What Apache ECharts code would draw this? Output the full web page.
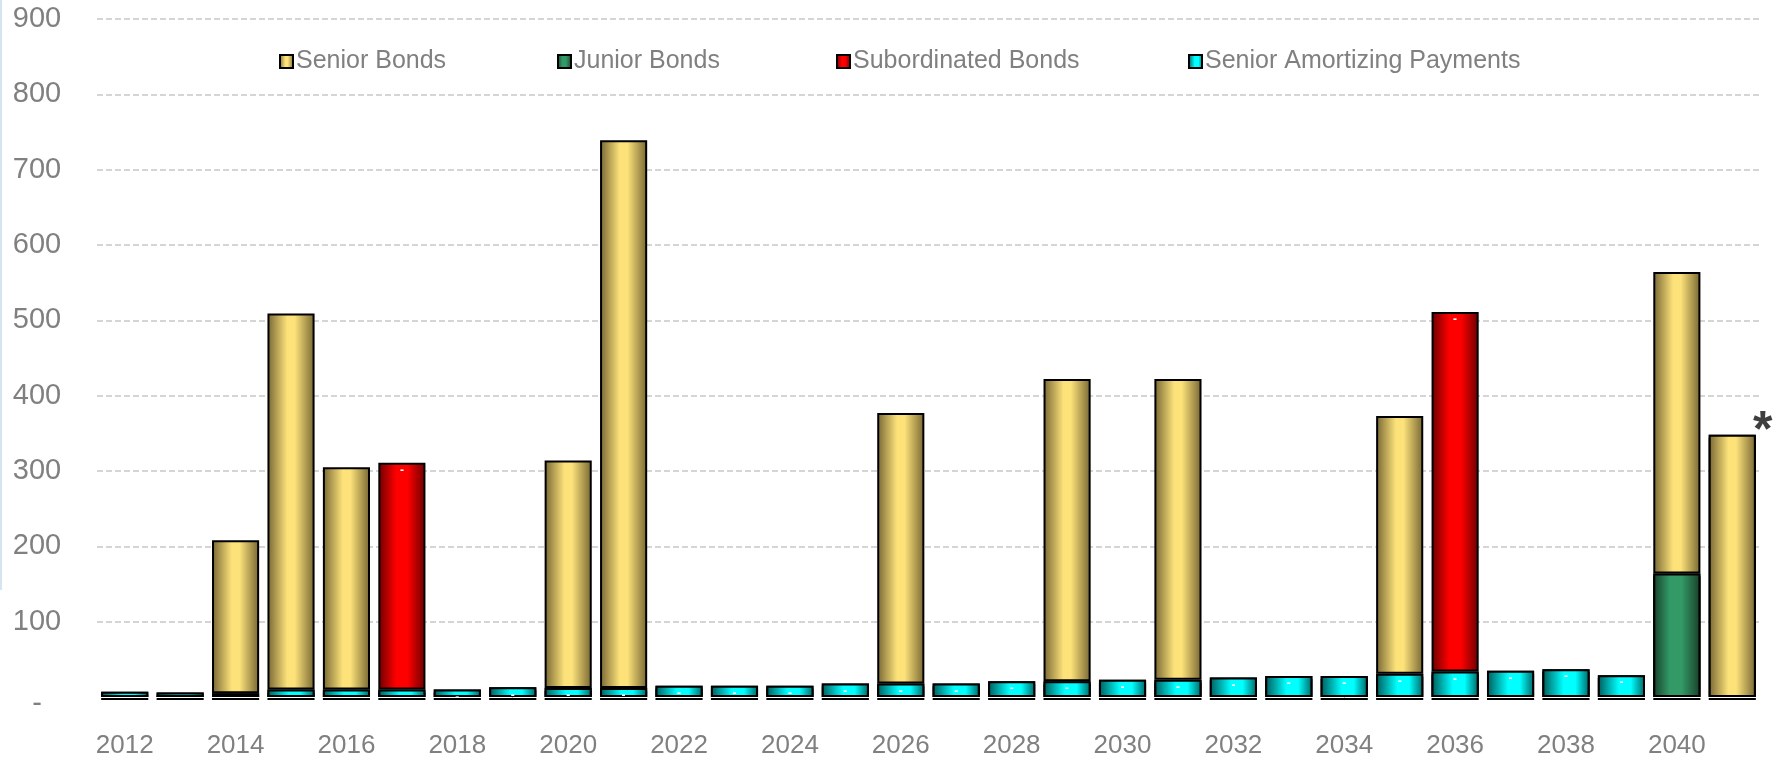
<!DOCTYPE html>
<html>
<head>
<meta charset="utf-8">
<script src="https://cdn.jsdelivr.net/npm/echarts@6/dist/echarts.min.js"></script>
<style>
html,body{margin:0;padding:0;background:#fff;}
#chart{width:1781px;height:757px;}
</style>
</head>
<body>
<div id="chart"></div>
<script>
// ---- data ----
const years = ['2012','2013','2014','2015','2016','2017','2018','2019','2020','2021','2022','2023','2024','2025','2026','2027','2028','2029','2030','2031','2032','2033','2034','2035','2036','2037','2038','2039','2040','2041'];
const seniorAmortizing = [7,6,5,10,10,10,10,13,12,12,15,15,15,18,18,18,21,21,23,23,26,28,28,31,34,35,37,29,null,null];
const juniorBonds = [null,null,null,null,null,null,null,null,null,null,null,null,null,null,null,null,null,null,null,null,null,null,null,null,null,null,null,null,164,null];
const seniorBonds = [null,null,203,499,295,null,null,null,302,727,null,null,null,null,359,null,null,401,null,399,null,null,null,342,null,null,null,null,400,348];
const subordinatedBonds = [null,null,null,null,null,301,null,null,null,null,null,null,null,null,null,null,null,null,null,null,null,null,null,null,477,null,null,null,null,null];
const yTicks = {min:0, max:900, interval:100};
const legendNames = ['Senior Bonds','Junior Bonds','Subordinated Bonds','Senior Amortizing Payments'];
const footnoteYear = '2041';

// ---- styles ----
function grad(edgeL, mid, edgeR, a, b){
  return new echarts.graphic.LinearGradient(0,0,1,0,[
    {offset:0,color:edgeL},{offset:a,color:mid},{offset:b,color:mid},{offset:1,color:edgeR}]);
}
const cSenior = grad('#766633','#fde27a','#766633',0.42,0.58);
const cJunior = grad('#173f2a','#339966','#173f2a',0.35,0.6);
const cSub = grad('#6a0000','#ff0000','#6a0000',0.38,0.62);
const cSap = grad('#005a5a','#00ffff','#006464',0.45,0.7);

const stackOrder = [
  {name:legendNames[3], data:seniorAmortizing, color:cSap},
  {name:legendNames[1], data:juniorBonds, color:cJunior},
  {name:legendNames[0], data:seniorBonds, color:cSenior},
  {name:legendNames[2], data:subordinatedBonds, color:cSub}
];

const dash = {show:true, formatter:'-', position:'insideTop', distance:2, color:'#fff', fontSize:12, fontWeight:'bold'};

const series = stackOrder.map((s, si) => ({
  name: s.name,
  type: 'bar',
  stack: 'total',
  z: 3,
  barCategoryGap: '15%',
  itemStyle: {color: s.color, borderColor:'#000', borderWidth:2},
  emphasis: {disabled:true},
  data: s.data.map((v,i) => {
    if(v==null) return null;
    const item = {value:v};
    if(si===0 && i>=6) item.label = dash;
    if(si===3) item.label = dash;
    if(si===2 && years[i]===footnoteYear){
      item.label = {show:true, formatter:'*', position:['100%',0], align:'center', verticalAlign:'middle',
        offset:[7,-3], fontSize:50, fontWeight:'bold', color:'#3f3f3f', fontFamily:'Liberation Sans'};
    }
    return item;
  })
}));

// dark base strip under every bar (drop shadow of the bottom segment)
const baseValues = years.map((y,i)=>{
  for(const s of stackOrder){ if(s.data[i]!=null) return s.data[i]; }
  return null;
});
series.push({
  name:'base', type:'bar', barGap:'-100%', z:1, silent:true,
  itemStyle:{color:'#000', shadowColor:'#000', shadowOffsetY:3, shadowBlur:0},
  data: baseValues
});

const legendX = [274, 552, 831, 1183];
const legends = legendNames.map((n,k)=>({
  data:[n], left:legendX[k], top:44, itemWidth:13, itemHeight:13, itemGap:10,
  icon:'rect', itemStyle:{borderColor:'#000', borderWidth:2},
  textStyle:{color:'#808080', fontSize:25, fontFamily:'Liberation Sans', padding:[0,0,0,-2]},
  selectedMode:false
}));

const chart = echarts.init(document.getElementById('chart'), null, {renderer:'canvas'});
chart.setOption({
  animation:false,
  backgroundColor:'#fff',
  textStyle:{fontFamily:'Liberation Sans'},
  grid:{left:97, right:21, top:19, bottom:60, containLabel:false, outerBoundsMode:'none'},
  legend: legends,
  graphic:[{type:'rect', shape:{x:0,y:0,width:2,height:590}, style:{fill:'#d5e3f3'}, silent:true}],
  xAxis:{
    type:'category', data:years, z:10,
    axisLine:{show:true, lineStyle:{color:'#fff', width:1}},
    axisTick:{show:false},
    axisLabel:{interval:1, color:'#808080', fontSize:26, margin:36, fontFamily:'Liberation Sans'}
  },
  yAxis:{
    type:'value', min:yTicks.min, max:yTicks.max, interval:yTicks.interval,
    axisLine:{show:false}, axisTick:{show:false},
    axisLabel:{color:'#808080', fontSize:29, align:'center', margin:60, fontFamily:'Liberation Sans',
      formatter:v=> v===0 ? '{d|-}' : String(v),
      rich:{d:{fontSize:29, color:'#808080', padding:[14,0,0,0], fontFamily:'Liberation Sans'}}},
    splitLine:{show:true, showMinLine:false, lineStyle:{color:'#c8c8c8', width:1.5, type:[6,3]}}
  },
  series: series
});
</script>
</body>
</html>
